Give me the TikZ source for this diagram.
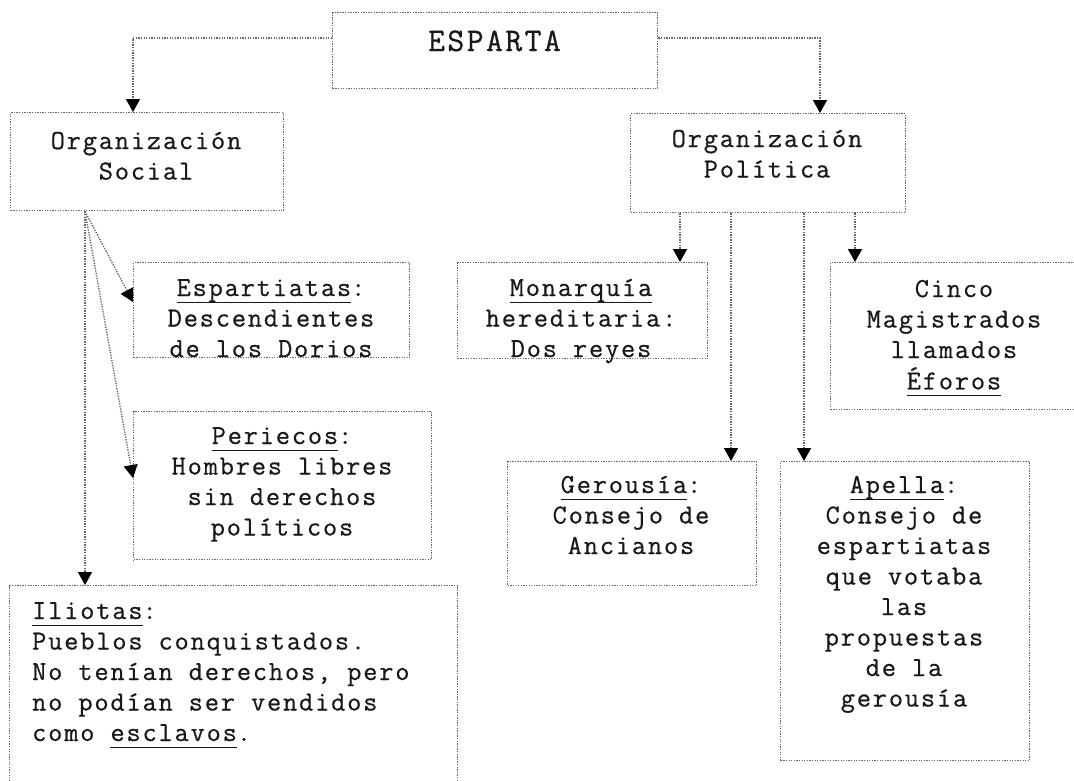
\documentclass[tikz,border=0pt]{standalone}
\usepackage{fontspec}
\setmonofont{Latin Modern Mono}[LetterSpace=6.8,FakeBold=0.6]
\newfontfamily\bigmono{Latin Modern Mono}[LetterSpace=7,FakeBold=0.6]
\usetikzlibrary{arrows.meta}
\newcommand\ulx[1]{\setbox0=\hbox{#1}\rlap{\rule[-7pt]{\wd0}{1.5pt}}\box0}
\begin{document}
\begin{tikzpicture}[x=1pt,y=-1pt,
  box/.style={draw=black!60, line width=1.4pt, dash pattern=on 1.3pt off 1.3pt, inner sep=0pt, anchor=north west},
  conn/.style={draw=black!60, line width=1.4pt, dash pattern=on 1.3pt off 1.3pt, -{Triangle[width=14pt,length=13pt,color=black]}},
  txt/.style={inner sep=0pt, text=black!90, font=\ttfamily\fontsize{27.5}{30.5}\selectfont},
  big/.style={inner sep=0pt, text=black!90, font=\bigmono\fontsize{33}{36}\selectfont}]
\useasboundingbox (0,0) rectangle (1074,780);
% boxes
\node[box, minimum width=325pt, minimum height=76pt] (esparta) at (332,12) {};
\node[box, minimum width=273pt, minimum height=98pt] (orgS) at (10,112) {};
\node[box, minimum width=275pt, minimum height=99pt] (orgP) at (630,113) {};
\node[box, minimum width=276pt, minimum height=95pt] (espa) at (133,262) {};
\node[box, minimum width=298pt, minimum height=148pt] (peri) at (133,411) {};
\node[box, minimum width=250pt, minimum height=96pt] (mon) at (457,262) {};
\node[box, minimum width=250pt, minimum height=147pt] (cinco) at (830,262) {};
\node[box, minimum width=249pt, minimum height=124pt] (ger) at (507,461) {};
\node[box, minimum width=249pt, minimum height=299pt] (apella) at (780,461) {};
\node[box, minimum width=448pt, minimum height=210pt] (ilio) at (9,585) {};
% texts
\node[big, anchor=base] (espartaT) at (494.5,51) {ESPARTA};
\node[txt, anchor=base] (orgST) at (146,149) {\begin{tabular}[t]{@{}c@{}}Organización\\Social\end{tabular}};
\node[txt, anchor=base] (orgPT) at (767,147) {\begin{tabular}[t]{@{}c@{}}Organización\\Política\end{tabular}};
\node[txt, anchor=base] (espaT) at (271,296) {\begin{tabular}[t]{@{}c@{}}\ulx{Espartiatas}:\\Descendientes\\de los Dorios\end{tabular}};
\node[txt, anchor=base] (periT) at (282,444) {\begin{tabular}[t]{@{}c@{}}\ulx{Periecos}:\\Hombres libres\\sin derechos\\políticos\end{tabular}};
\node[txt, anchor=base] (monT) at (581,296) {\begin{tabular}[t]{@{}c@{}}\ulx{Monarquía}\\hereditaria:\\Dos reyes\end{tabular}};
\node[txt, anchor=base] (cincoT) at (954,297) {\begin{tabular}[t]{@{}c@{}}Cinco\\Magistrados\\llamados\\\ulx{Éforos}\end{tabular}};
\node[txt, anchor=base] (gerT) at (631,493) {\begin{tabular}[t]{@{}c@{}}\ulx{Gerousía}:\\Consejo de\\Ancianos\end{tabular}};
\node[txt, anchor=base] (apellaT) at (904,493) {\begin{tabular}[t]{@{}c@{}}\ulx{Apella}:\\Consejo de\\espartiatas\\que votaba\\las\\propuestas\\de la\\gerousía\end{tabular}};
\node[txt, anchor=base west] (ilioT) at (32,619) {\begin{tabular}[t]{@{}l@{}}\ulx{Iliotas}:\\Pueblos conquistados.\\No tenían derechos, pero\\no podían ser vendidos\\como \ulx{esclavos}.\end{tabular}};
% helper coordinates
\coordinate (y38) at (0,38);
\coordinate (y302) at (0,302);
\coordinate (y478) at (0,478);
\coordinate (x133) at (133,0);
\coordinate (x820) at (820,0);
\coordinate (x680) at (680,0);
\coordinate (x731) at (731,0);
\coordinate (x804) at (804,0);
\coordinate (x855) at (855,0);
\coordinate (x85) at (85,0);
\coordinate (sb) at (orgS.south -| x85);
% connectors
\draw[conn] (esparta.west |- y38) -| (orgS.north -| x133);
\draw[conn] (esparta.east |- y38) -| (orgP.north -| x820);
\draw[conn] (orgP.south -| x680) -- (mon.north -| x680);
\draw[conn] (orgP.south -| x731) -- (ger.north -| x731);
\draw[conn] (orgP.south -| x804) -- (apella.north -| x804);
\draw[conn] (orgP.south -| x855) -- (cinco.north -| x855);
\draw[conn] (sb) -- (espa.west |- y302);
\draw[conn] (sb) -- (peri.west |- y478);
\draw[conn] (sb) -- (ilio.north -| x85);
\end{tikzpicture}
\end{document}
